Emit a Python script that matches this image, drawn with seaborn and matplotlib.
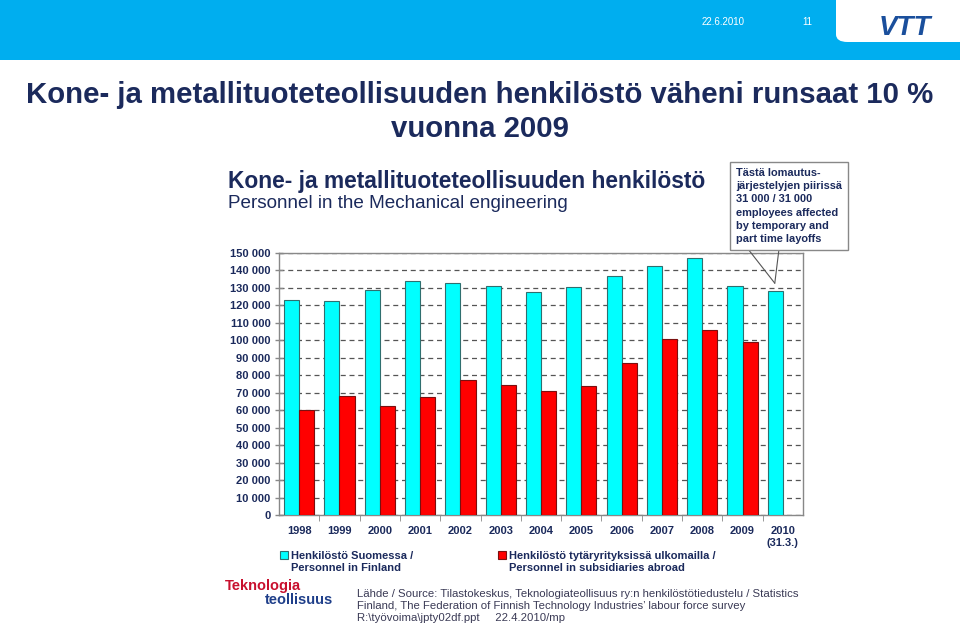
import matplotlib.pyplot as plt
import seaborn as sns
import pandas as pd
from matplotlib.patches import FancyBboxPatch, Rectangle
from matplotlib.ticker import FixedLocator

# Data
years = ['1998', '1999', '2000', '2001', '2002', '2003', '2004', '2005',
         '2006', '2007', '2008', '2009', '2010\n(31.3.)']
finland = [123000, 122500, 128800, 134000, 132800, 131100, 127700, 130500,
           136800, 142600, 147100, 131100, 128200]
abroad = [60100, 68100, 62400, 67600, 77300, 74400, 71000, 73900,
          87000, 100800, 105900, 99000, None]
series = ['Henkilöstö Suomessa /\nPersonnel in Finland',
          'Henkilöstö tytäryrityksissä ulkomailla /\nPersonnel in subsidiaries abroad']
yticks = list(range(0, 150001, 10000))

df = pd.DataFrame({
    'year': years * 2,
    'value': finland + abroad,
    'series': [series[0]] * len(years) + [series[1]] * len(years),
})

navy = '#1b2a5c'
cyan = '#00ffff'
red = '#ff0000'

sns.set_style('white')
plt.rcParams['font.family'] = ['Liberation Sans', 'DejaVu Sans']

fig = plt.figure(figsize=(9.6, 6.31), dpi=100)

# slide header
fig.patches.append(Rectangle((0, 1 - 60 / 631), 1, 60 / 631, transform=fig.transFigure,
                             facecolor='#00aeef', edgecolor='none', zorder=0))
fig.patches.append(FancyBboxPatch((836 / 960, 1 - 42 / 631), 0.2, 0.1,
                                  boxstyle='round,pad=0,rounding_size=0.012',
                                  transform=fig.transFigure, facecolor='white',
                                  edgecolor='none', zorder=1))
fig.text(723 / 960, 1 - 22 / 631, '22.6.2010', color='white', fontsize=7,
         ha='center', va='center')
fig.text(807 / 960, 1 - 22 / 631, '11', color='white', fontsize=7,
         ha='center', va='center')
fig.text(905 / 960, 1 - 28 / 631, 'VTT', color='#1a4f9c', fontsize=20,
         fontweight='bold', fontstyle='italic', ha='center', va='center', zorder=2)

fig.text(0.5, 1 - 95 / 631, 'Kone- ja metallituoteteollisuuden henkilöstö väheni runsaat 10 %',
         color=navy, fontsize=21.2, fontweight='bold', ha='center', va='center')
fig.text(0.5, 1 - 129 / 631, 'vuonna 2009', color=navy, fontsize=21.2,
         fontweight='bold', ha='center', va='center')

# chart titles
fig.text(228 / 960, 1 - 181 / 631, 'Kone- ja metallituoteteollisuuden henkilöstö',
         color=navy, fontsize=16.4, fontweight='bold', ha='left', va='center')
fig.text(228 / 960, 1 - 204 / 631, 'Personnel in the Mechanical engineering',
         color=navy, fontsize=13.6, ha='left', va='center')

ax = fig.add_axes([279 / 960, 1 - 515 / 631, 524 / 960, 262 / 631])
sns.barplot(data=df, x='year', y='value', hue='series', palette=[cyan, red],
            width=0.75, gap=0, saturation=1, ax=ax, legend=False, zorder=3)
for bar, ec in zip(ax.patches, ['#2f6f6f'] * len(years) + ['#7a1010'] * len(years)):
    bar.set_edgecolor(ec)
    bar.set_linewidth(0.8)

ax.set_xlim(-0.5, len(years) - 0.5)
ax.set_ylim(0, 150000)
ax.set_yticks(yticks)
ax.set_yticklabels([f'{v:,}'.replace(',', ' ') for v in yticks])
ax.yaxis.grid(True, linestyle=(0, (4, 3)), color='#555555', linewidth=0.9, zorder=0)
ax.set_axisbelow(True)
ax.set_xlabel('')
ax.set_ylabel('')
for s in ax.spines.values():
    s.set_color('#888888')
    s.set_linewidth(1)
ax.tick_params(axis='y', which='major', direction='inout', length=6, width=1,
               color='#888888', left=True, labelsize=8, labelcolor=navy, pad=3)
ax.tick_params(axis='x', which='major', length=0, labelsize=8, labelcolor=navy, pad=8)
ax.xaxis.set_minor_locator(FixedLocator([i + 0.5 for i in range(len(years) - 1)]))
ax.tick_params(axis='x', which='minor', direction='out', length=4, color='#888888',
               bottom=True)
for lab in ax.get_xticklabels() + ax.get_yticklabels():
    lab.set_fontweight('bold')
ax.patch.set_alpha(0)

# callout box
tip = (len(years) - 1 - 0.2, finland[-1] + 4500)
box_txt = ('Tästä lomautus-\njärjestelyjen piirissä\n31 000 / 31 000\n'
           'employees affected\nby temporary and\npart time layoffs')
fig.text(736 / 960, 1 - 206 / 631, box_txt, color=navy, fontsize=7.9,
         fontweight='bold', ha='left', va='center', linespacing=1.42,
         bbox=dict(boxstyle='square,pad=0.55', facecolor='white', edgecolor='#888888',
                   linewidth=1))
for xt in (748, 779):
    ax.annotate('', xy=tip, xycoords='data', xytext=(xt / 960, 1 - 249 / 631),
                textcoords='figure fraction',
                arrowprops=dict(arrowstyle='-', color='#555555', linewidth=0.8,
                                shrinkA=0, shrinkB=0))

# legend
for (lx, col, ec), lab in zip([(280, cyan, '#2f6f6f'), (498, red, '#7a1010')], series):
    fig.patches.append(Rectangle((lx / 960, 1 - 559 / 631), 8 / 960, 8 / 631,
                                 transform=fig.transFigure, facecolor=col,
                                 edgecolor=ec, linewidth=0.8))
    fig.text((lx + 11) / 960, 1 - 562 / 631, lab, color=navy, fontsize=8,
             fontweight='bold', ha='left', va='center', linespacing=1.35)

# logo and source
fig.text(225 / 960, 1 - 586 / 631, 'Teknologia', color='#c8102e', fontsize=10.5,
         fontweight='bold', ha='left', va='center')
fig.text(265 / 960, 1 - 600.5 / 631, 'teollisuus', color='#1f3f8a', fontsize=10.5,
         fontweight='bold', ha='left', va='center')
fig.text(357 / 960, 1 - 606 / 631,
         'Lähde / Source: Tilastokeskus, Teknologiateollisuus ry:n henkilöstötiedustelu / Statistics\n'
         'Finland, The Federation of Finnish Technology Industries\u2019 labour force survey\n'
         'R:\\työvoima\\jpty02df.ppt     22.4.2010/mp',
         color='#3a3a55', fontsize=8.2, ha='left', va='center', linespacing=1.2)

fig.savefig('out.png', dpi=100)
